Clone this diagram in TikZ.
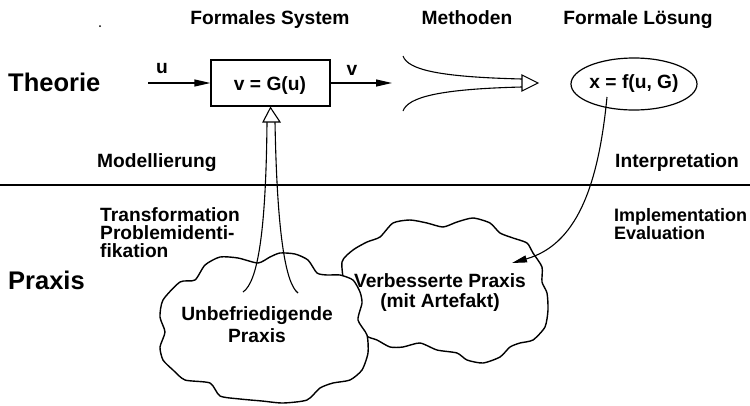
\documentclass[tikz,border=0pt]{standalone}
\usepackage{fontspec}
\newfontfamily\lsans{Liberation Sans}
\usetikzlibrary{arrows.meta,shapes.geometric}

\tikzset{
  lbl/.style={font=\lsans\bfseries\fontsize{19.2}{18}\selectfont, inner sep=0pt},
  big/.style={font=\lsans\bfseries\fontsize{25.5}{25}\selectfont, inner sep=0pt},
  flow/.style={line width=1.2pt, -{Triangle[length=16pt,width=7pt]}},
  thin/.style={line width=1.1pt},
  cloudline/.style={line width=1.4pt, fill=white, line join=round},
  hollowhead/.style={line width=1.1pt, fill=white, line join=miter}
}

\begin{document}
\begin{tikzpicture}[x=1pt,y=-1pt]
\useasboundingbox (0,0) rectangle (750,405);

% column headings
\node[lbl, anchor=base] (hsys) at (270,24) {Formales System};
\node[lbl, anchor=base] (hmeth) at (467,24) {Methoden};
\node[lbl, anchor=base] (hsol) at (638,24) {Formale Lösung};
\fill (100,26) circle (1pt);

% level names
\node[big, anchor=base west] (theorie) at (8,91) {Theorie};
\node[big, anchor=base west] (praxis) at (8,289) {Praxis};

% separating line between theory and practice
\draw[line width=2.2pt] (0,185) -- (750,185);

% the formal system
\node[lbl, draw, line width=1.2pt, minimum width=119pt, minimum height=46pt]
  (sys) at (270.5,83) {};
\node[lbl, anchor=base] (systxt) at (270,90) {v = G(u)};
\coordinate (uin) at (148,83);
\coordinate (vout) at (392,83);
\draw[flow] (uin) -- (sys.west);
\draw[flow] (sys.east) -- (vout);
\node[lbl, anchor=base] (ulab) at (162,73) {u};
\node[lbl, anchor=base] (vlab) at (352,75) {v};

% the methods funnel
\coordinate (mtop) at (403,56);
\coordinate (mbot) at (403,111);
\coordinate (mup) at (522,79);
\coordinate (mlo) at (522,87);
\draw[thin] (mtop) .. controls (408,70) and (440,77) .. (mup);
\draw[thin] (mbot) .. controls (408,97) and (440,89) .. (mlo);
\draw[hollowhead] (522,75) -- (538,83) -- (522,91) -- cycle;

% formal solution
\node[lbl, draw, ellipse, line width=1.2pt, minimum width=126pt, minimum height=52pt]
  (sol) at (634,84) {};
\node[lbl, anchor=base] (soltxt) at (634,88) {x = f(u, G)};

% side labels
\node[lbl, anchor=base west] (modl) at (97,167) {Modellierung};
\node[lbl, anchor=base west] (interp) at (615,167) {Interpretation};
\node[lbl, anchor=north west, align=left] (transf) at (100,207)
  {Transformation\\Problemidenti-\\fikation};
\node[lbl, anchor=north west, align=left, font=\lsans\bfseries\fontsize{18}{18}\selectfont]
  (impl) at (614,208) {Implementation\\Evaluation};

% improved practice (behind)
\draw[cloudline] plot[smooth cycle, tension=0.4] coordinates {
  (342,262) (353,250) (367,242) (380,237) (393,223) (410,220) (427,223)
  (443,227) (457,222) (473,218) (490,223) (500,233) (513,238) (527,243)
  (533,253) (542,267) (542,282) (547,293) (548,310) (545,327) (533,340)
  (520,343) (510,347) (500,357) (483,363) (467,360) (457,353) (437,350)
  (420,343) (403,347) (390,347) (377,340) (365,335) (352,315) (345,290)};

% unsatisfying practice (front)
\draw[cloudline] plot[smooth cycle, tension=0.4] coordinates {
  (160,347) (165,332) (160,317) (163,300) (180,282) (195,280) (205,265)
  (220,257) (238,258) (258,263) (270,257) (280,253) (295,254) (308,260)
  (317,273) (327,275) (340,275) (353,280) (360,292) (362,303) (358,320)
  (367,335) (368,353) (362,370) (350,380) (333,383) (320,388) (307,400)
  (283,403) (262,401) (240,399) (220,396) (210,383) (185,380) (173,370)
  (163,360)};

% modelling arrow (double line with hollow head)
\coordinate (ml) at (243,292);
\coordinate (mr) at (298,293);
\draw[thin] (ml) .. controls (258,282) and (266,230) .. (267,122);
\draw[thin] (mr) .. controls (285,283) and (277,230) .. (275,122);
\draw[hollowhead] (sys.south) ++(0,1) -- (280,122) -- (263,122) -- cycle;

% interpretation / implementation arrow
\coordinate (istart) at (607,97);
\coordinate (iend) at (512,263);
\draw[line width=1.1pt, -{Triangle[length=15pt,width=7pt]}]
  (istart) .. controls (598,190) and (575,245) .. (iend);

% cloud texts
\node[lbl, anchor=north, align=center, font=\lsans\bfseries\fontsize{19.2}{22}\selectfont]
  (unb) at (257,306) {Unbefriedigende\\Praxis};
\node[lbl, anchor=north, align=center, font=\lsans\bfseries\fontsize{19.2}{20}\selectfont]
  (verb) at (440,273) {Verbesserte Praxis\\(mit Artefakt)};
\end{tikzpicture}
\end{document}
